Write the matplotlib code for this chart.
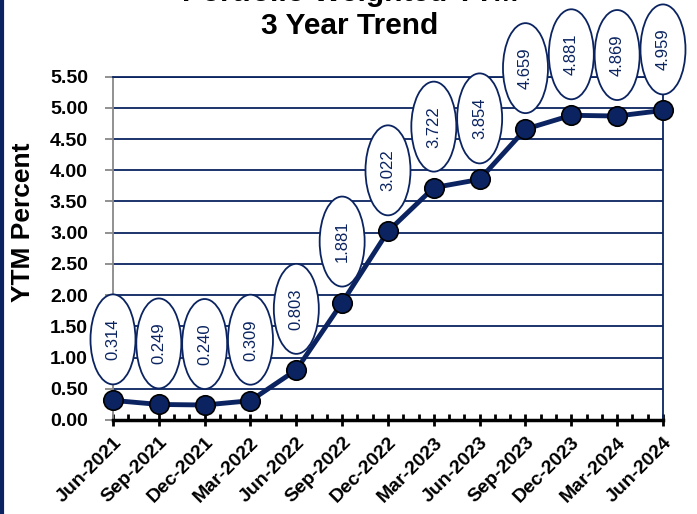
import numpy as np
import matplotlib
matplotlib.use("Agg")
import matplotlib.pyplot as plt
import matplotlib.transforms as mtransforms
from matplotlib.patches import Ellipse
from matplotlib.lines import Line2D

plt.rcParams['font.family'] = ['Liberation Sans', 'DejaVu Sans']

# data
quarters = ['Jun-2021', 'Sep-2021', 'Dec-2021', 'Mar-2022', 'Jun-2022', 'Sep-2022',
            'Dec-2022', 'Mar-2023', 'Jun-2023', 'Sep-2023', 'Dec-2023', 'Mar-2024', 'Jun-2024']
ytm = [0.314, 0.249, 0.240, 0.309, 0.803, 1.881, 3.022, 3.722, 3.854, 4.659, 4.881, 4.869, 4.959]
yticks = [0.0, 0.5, 1.0, 1.5, 2.0, 2.5, 3.0, 3.5, 4.0, 4.5, 5.0, 5.5]

navy = '#0b2461'

fig = plt.figure(figsize=(6.97, 5.14), dpi=100)
ax = fig.add_axes([0.1621, 0.1829, 0.7891, 0.6680])

x = np.arange(len(quarters))
ax.plot(x, ytm, color=navy, lw=3.5, marker='o', ms=14, mfc=navy, mec='black',
        mew=1.2, zorder=4, clip_on=False)

# data labels in ellipses
for xi, yi in zip(x, ytm):
    tr = fig.dpi_scale_trans + mtransforms.ScaledTranslation(xi, yi, ax.transData)
    ell = Ellipse((0, 0.61), 0.45, 0.90, transform=tr, facecolor='white',
                  edgecolor=navy, lw=1.3, zorder=5, clip_on=False)
    ax.add_patch(ell)
    ax.annotate(f'{yi:.3f}', (xi, yi), xytext=(0, 0.61 * 72), textcoords='offset points',
                rotation=90, ha='center', va='center', fontsize=12, color=navy,
                zorder=6, annotation_clip=False)

ax.set_xlim(0, len(quarters) - 1)
ax.set_ylim(0, 5.5)
ax.set_yticks(yticks)
ax.set_yticklabels([f'{v:.2f}' for v in yticks], fontsize=14, fontweight='bold')
ax.set_xticks(x)
ax.set_xticklabels(quarters, fontsize=14, fontweight='bold', rotation=45,
                   ha='right', va='top', rotation_mode='anchor')
ax.set_xticks(np.arange(0, len(quarters) - 1 + 1e-9, 1 / 3), minor=True)

ax.grid(axis='y', color=navy, lw=1.3)
ax.set_axisbelow(True)
ax.spines['left'].set_color('#888888')
ax.spines['left'].set_linewidth(1.3)
ax.spines['bottom'].set_color('black')
ax.spines['bottom'].set_linewidth(2.5)
ax.spines['right'].set_color(navy)
ax.spines['right'].set_linewidth(1.3)
ax.spines['top'].set_color(navy)
ax.spines['top'].set_linewidth(1.3)
ax.tick_params(axis='y', color='#888888', length=6, width=1.3, pad=12)
ax.tick_params(axis='x', which='major', direction='inout', length=8, width=2, color='black', pad=6)
ax.tick_params(axis='x', which='minor', direction='in', length=4, width=2, color='black')

fig.text(23 / 697, 1 - 222 / 514, 'YTM Percent', rotation=90, ha='center', va='center',
         fontsize=19, fontweight='bold')

fig.text(0.502, 1 + 7 / 514, 'Portfolio Weighted YTM', ha='center', va='center',
         fontsize=21.5, fontweight='bold')
fig.text(0.502, 1 - 26 / 514, '3 Year Trend', ha='center', va='center',
         fontsize=21.5, fontweight='bold')

fig.add_artist(Line2D([0.003, 0.003], [0, 1], color=navy, lw=3, transform=fig.transFigure))

fig.savefig('out.png', dpi=100)
